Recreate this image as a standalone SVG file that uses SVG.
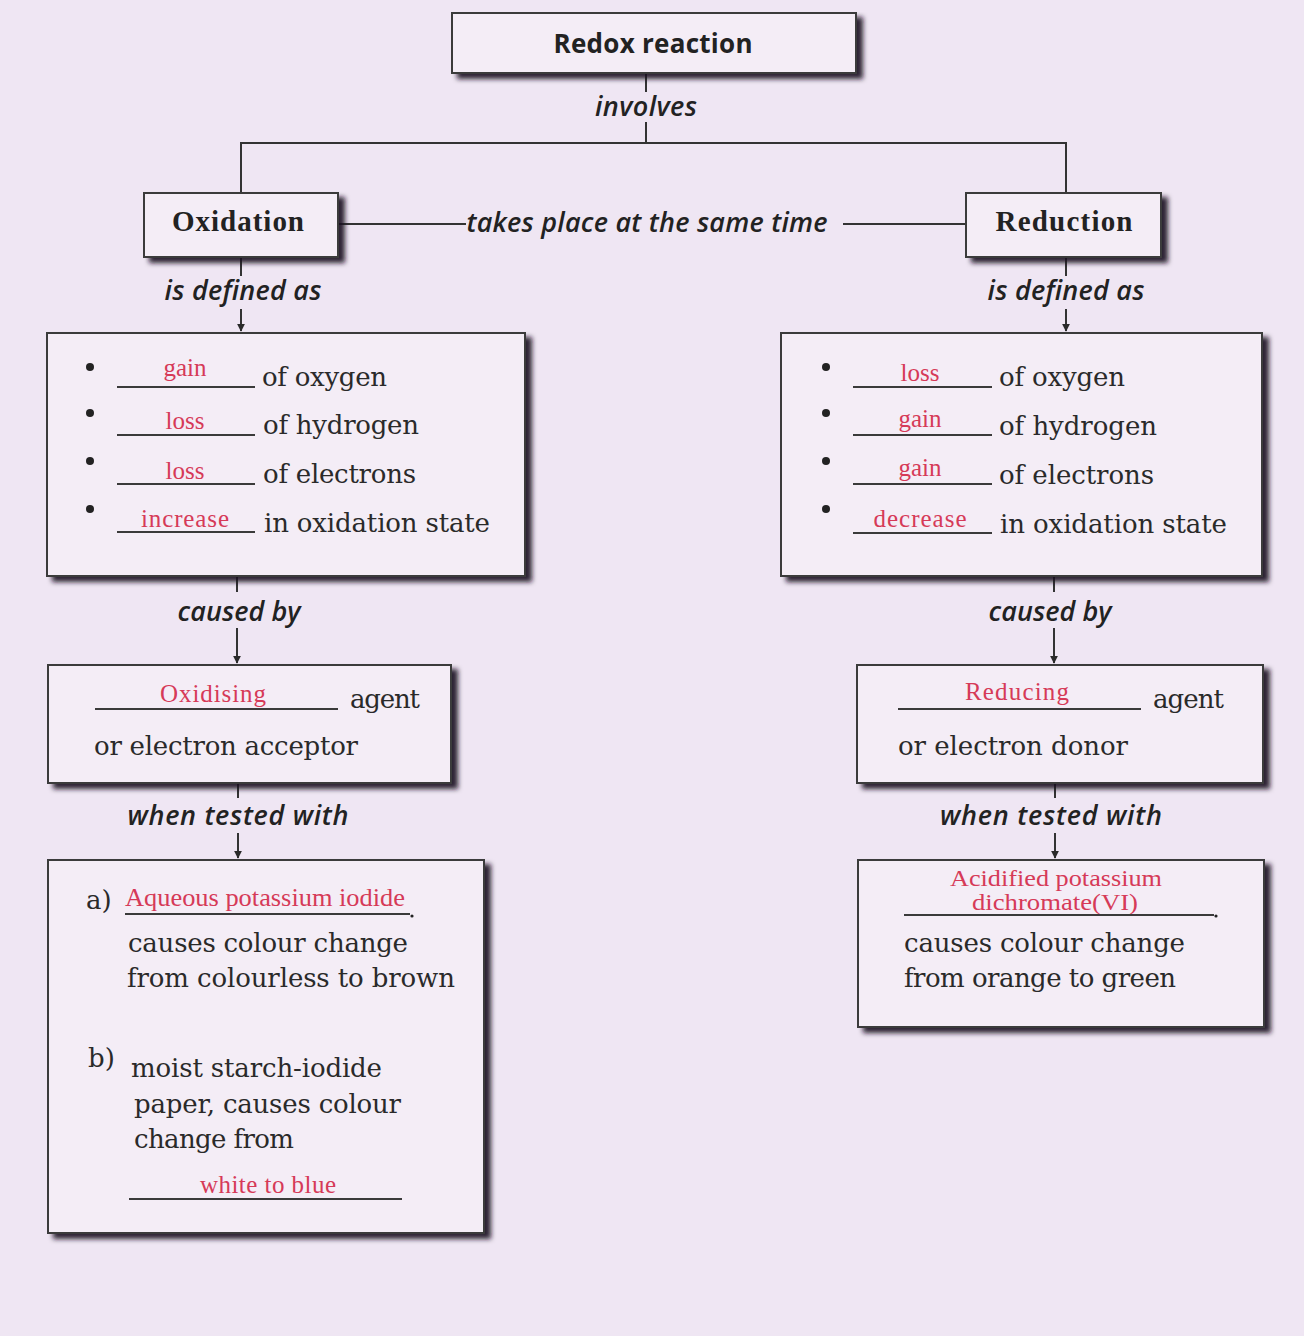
<svg xmlns="http://www.w3.org/2000/svg" width="1304" height="1336" viewBox="0 0 1304 1336">
<defs>
<filter id="sh" x="-10%" y="-10%" width="130%" height="130%">
<feGaussianBlur in="SourceAlpha" stdDeviation="2.5" result="b"/>
<feOffset in="b" dx="6" dy="5" result="o"/>
<feFlood flood-color="#1a1020" flood-opacity="0.9"/>
<feComposite in2="o" operator="in" result="s"/>
<feMerge><feMergeNode in="s"/><feMergeNode in="SourceGraphic"/></feMerge>
</filter>
<marker id="ar" viewBox="0 0 10 10" refX="9" refY="5" markerWidth="8" markerHeight="8" orient="auto" markerUnits="userSpaceOnUse">
<path d="M0,0 L10,5 L0,10 z" fill="#2a2a2a"/>
</marker>
</defs>
<style>
.box{fill:#f4edf6;stroke:#3a3a3a;stroke-width:2;filter:url(#sh)}
.ln{stroke:#333;stroke-width:2;fill:none}
.ul{stroke:#3a3a3a;stroke-width:1.8}
.lab{font-family:"Open Sans","DejaVu Sans",sans-serif;font-style:italic;font-weight:600;font-size:27px;fill:#222;text-anchor:middle}
.ttl{font-family:"Open Sans","DejaVu Sans",sans-serif;font-weight:bold;font-size:26px;fill:#222;text-anchor:middle}
.hd{font-family:"Liberation Serif",serif;font-weight:bold;font-size:29px;fill:#222;text-anchor:middle}
.tx{font-family:"DejaVu Serif","Liberation Serif",serif;font-size:26px;fill:#2a2a2a}
.rd{font-family:"Liberation Serif",serif;font-size:25px;fill:#d63a58;text-anchor:middle}
.rs{font-size:23px}
.bl{fill:#222}
</style>
<rect width="1304" height="1336" fill="#efe6f3"/>

<g id="connectors">
<line class="ln" x1="646" y1="73" x2="646" y2="92"/>
<line class="ln" x1="646" y1="122" x2="646" y2="143"/>
<polyline class="ln" points="241,193 241,143 1066,143 1066,193"/>
<line class="ln" x1="338" y1="224" x2="466" y2="224"/>
<line class="ln" x1="843" y1="224" x2="966" y2="224"/>
<line class="ln" x1="241" y1="257" x2="241" y2="276"/>
<line class="ln" x1="241" y1="309" x2="241" y2="331" marker-end="url(#ar)"/>
<line class="ln" x1="1066" y1="257" x2="1066" y2="276"/>
<line class="ln" x1="1066" y1="309" x2="1066" y2="331" marker-end="url(#ar)"/>
<line class="ln" x1="237" y1="576" x2="237" y2="592"/>
<line class="ln" x1="237" y1="628" x2="237" y2="663" marker-end="url(#ar)"/>
<line class="ln" x1="1054" y1="576" x2="1054" y2="592"/>
<line class="ln" x1="1054" y1="628" x2="1054" y2="663" marker-end="url(#ar)"/>
<line class="ln" x1="238" y1="783" x2="238" y2="798"/>
<line class="ln" x1="238" y1="833" x2="238" y2="858" marker-end="url(#ar)"/>
<line class="ln" x1="1055" y1="783" x2="1055" y2="798"/>
<line class="ln" x1="1055" y1="833" x2="1055" y2="858" marker-end="url(#ar)"/>
<text class="lab" x="646" y="116" textLength="102">involves</text>
<text class="lab" x="647" y="232" textLength="361">takes place at the same time</text>
<text class="lab" x="243" y="300" textLength="157">is defined as</text>
<text class="lab" x="1066" y="300" textLength="157">is defined as</text>
<text class="lab" x="239" y="621" textLength="123">caused by</text>
<text class="lab" x="1050" y="621" textLength="123">caused by</text>
<text class="lab" x="238" y="825" textLength="221">when tested with</text>
<text class="lab" x="1051" y="825" textLength="222">when tested with</text>
</g>

<g id="redox">
<rect class="box" x="452" y="13" width="404" height="60"/>
<text class="ttl" x="653" y="53" textLength="199">Redox reaction</text>
</g>

<g id="oxidation">
<rect class="box" x="144" y="193" width="194" height="64"/>
<text class="hd" x="238" y="231" textLength="132">Oxidation</text>
</g>

<g id="reduction">
<rect class="box" x="966" y="193" width="195" height="64"/>
<text class="hd" x="1064" y="231" textLength="137">Reduction</text>
</g>

<g id="oxidation-def">
<rect class="box" x="47" y="333" width="478" height="243"/>
<circle class="bl" cx="90" cy="367" r="4"/>
<circle class="bl" cx="90" cy="413" r="4"/>
<circle class="bl" cx="90" cy="461" r="4"/>
<circle class="bl" cx="90" cy="509" r="4"/>
<line class="ul" x1="117" y1="387" x2="255" y2="387"/>
<line class="ul" x1="117" y1="435" x2="255" y2="435"/>
<line class="ul" x1="117" y1="484" x2="255" y2="484"/>
<line class="ul" x1="117" y1="532" x2="255" y2="532"/>
<text class="rd" x="185" y="376">gain</text>
<text class="rd" x="185" y="429">loss</text>
<text class="rd" x="185" y="479">loss</text>
<text class="rd" x="185" y="527" textLength="88">increase</text>
<text class="tx" x="262" y="386" textLength="125">of oxygen</text>
<text class="tx" x="263" y="434" textLength="156">of hydrogen</text>
<text class="tx" x="263" y="483" textLength="153">of electrons</text>
<text class="tx" x="264" y="532" textLength="226">in oxidation state</text>
</g>

<g id="reduction-def">
<rect class="box" x="781" y="333" width="481" height="243"/>
<circle class="bl" cx="826" cy="367" r="4"/>
<circle class="bl" cx="826" cy="413" r="4"/>
<circle class="bl" cx="826" cy="461" r="4"/>
<circle class="bl" cx="826" cy="509" r="4"/>
<line class="ul" x1="853" y1="387" x2="992" y2="387"/>
<line class="ul" x1="853" y1="435" x2="992" y2="435"/>
<line class="ul" x1="853" y1="484" x2="992" y2="484"/>
<line class="ul" x1="853" y1="533" x2="992" y2="533"/>
<text class="rd" x="920" y="381">loss</text>
<text class="rd" x="920" y="427">gain</text>
<text class="rd" x="920" y="476">gain</text>
<text class="rd" x="920" y="527" textLength="93">decrease</text>
<text class="tx" x="999" y="386" textLength="126">of oxygen</text>
<text class="tx" x="999" y="435" textLength="158">of hydrogen</text>
<text class="tx" x="999" y="484" textLength="155">of electrons</text>
<text class="tx" x="1000" y="533" textLength="227">in oxidation state</text>
</g>

<g id="oxidising-agent">
<rect class="box" x="48" y="665" width="403" height="118"/>
<line class="ul" x1="95" y1="709" x2="338" y2="709"/>
<text class="rd" x="213" y="702" textLength="106">Oxidising</text>
<text class="tx" x="350" y="708" textLength="70">agent</text>
<text class="tx" x="94" y="755" textLength="264">or electron acceptor</text>
</g>

<g id="reducing-agent">
<rect class="box" x="857" y="665" width="406" height="118"/>
<line class="ul" x1="898" y1="709" x2="1141" y2="709"/>
<text class="rd" x="1017" y="700" textLength="104">Reducing</text>
<text class="tx" x="1153" y="708" textLength="71">agent</text>
<text class="tx" x="898" y="755" textLength="230">or electron donor</text>
</g>

<g id="oxidising-test">
<rect class="box" x="48" y="860" width="436" height="373"/>
<text class="tx" x="86" y="909">a)</text>
<text class="rd" x="265" y="906" textLength="280" lengthAdjust="spacingAndGlyphs">Aqueous potassium iodide</text>
<line class="ul" x1="125" y1="914" x2="410" y2="914"/>
<circle class="bl" cx="412" cy="916" r="1.6"/>
<text class="tx" x="128" y="952" textLength="280">causes colour change</text>
<text class="tx" x="127" y="987" textLength="328">from colourless to brown</text>
<text class="tx" x="88" y="1067">b)</text>
<text class="tx" x="131" y="1077" textLength="251">moist starch-iodide</text>
<text class="tx" x="134" y="1113" textLength="267">paper, causes colour</text>
<text class="tx" x="134" y="1148" textLength="160">change from</text>
<text class="rd" x="268" y="1193" textLength="136">white to blue</text>
<line class="ul" x1="129" y1="1199" x2="402" y2="1199"/>
</g>

<g id="reducing-test">
<rect class="box" x="858" y="860" width="406" height="167"/>
<text class="rd rs" x="1056" y="886" textLength="212" lengthAdjust="spacingAndGlyphs">Acidified potassium</text>
<text class="rd rs" x="1055" y="910" textLength="166" lengthAdjust="spacingAndGlyphs">dichromate(VI)</text>
<line class="ul" x1="904" y1="915" x2="1214" y2="915"/>
<circle class="bl" cx="1216" cy="916" r="1.6"/>
<text class="tx" x="904" y="952" textLength="281">causes colour change</text>
<text class="tx" x="904" y="987" textLength="272">from orange to green</text>
</g>
</svg>
